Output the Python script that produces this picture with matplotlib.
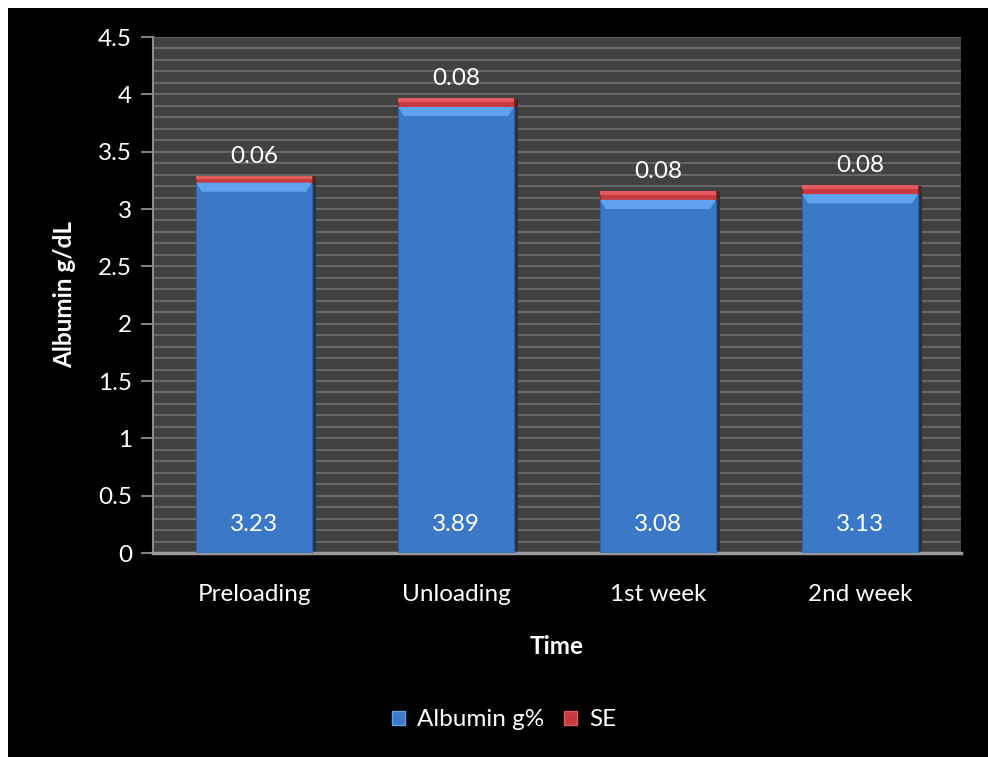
import numpy as np
import matplotlib.pyplot as plt
from matplotlib.patches import Rectangle, Polygon

# data
times = ['Preloading', 'Unloading', '1st week', '2nd week']
albumin = [3.23, 3.89, 3.08, 3.13]
se = [0.06, 0.08, 0.08, 0.08]

plt.rcParams['font.family'] = ['Lato', 'DejaVu Sans']
fs = 17.5

fig = plt.figure(figsize=(9.88, 7.57), dpi=100, facecolor='white')
# black chart area, white strip on top/left
fig.patches.append(Rectangle((8/988, 0), 1, 1 - 8/757, transform=fig.transFigure,
                             facecolor='black', edgecolor='none', zorder=-10))

ax = fig.add_axes([153/988, 1 - 553/757, 808/988, 516/757])
ax.set_facecolor('#414141')

x = np.arange(len(times))
w = 0.575
blue = '#3b78c8'
red = '#c93a3e'

# soft shadow behind bars
ax.bar(x + 0.015, np.array(albumin) + np.array(se), w + 0.01, bottom=-0.01,
       color='#303030', zorder=2)
ax.bar(x, albumin, w, color=blue, edgecolor='#2f62a6', lw=0.8, zorder=3)
ax.bar(x, se, w, bottom=albumin, color=red, edgecolor='#8e2226', lw=0.8, zorder=3)

# bevel highlight on top of bars
for xi, a, s in zip(x, albumin, se):
    l, r = xi - w/2, xi + w/2
    ax.add_patch(Polygon([(l, a), (r, a), (r - 0.03, a - 0.08), (l + 0.03, a - 0.08)],
                         closed=True, facecolor='#5fa2ee', edgecolor='none', zorder=4))
    ax.add_patch(Polygon([(l, a + s), (r, a + s), (r, a + s*0.55), (l, a + s*0.55)],
                         closed=True, facecolor='#e35a5e', edgecolor='none', zorder=4))
    ax.text(xi, a + s + 0.17, f'{s:.2f}', ha='center', va='center',
            color='white', fontsize=fs, zorder=5)
    ax.text(xi, 0.25, f'{a:.2f}', ha='center', va='center',
            color='white', fontsize=fs, zorder=5)

ax.set_xlim(-0.5, len(times) - 0.5)
ax.set_ylim(0, 4.5)
ax.set_yticks(np.arange(0, 4.51, 0.5))
ax.set_yticklabels(['0', '0.5', '1', '1.5', '2', '2.5', '3', '3.5', '4', '4.5'])
ax.set_yticks(np.arange(0, 4.51, 0.1), minor=True)
ax.grid(True, which='both', axis='y', color='#6c6c6c', lw=1.3, zorder=1)
ax.set_axisbelow(True)
ax.set_xticks(x)
ax.set_xticklabels(times)

ax.tick_params(axis='y', which='major', colors='#808080', labelcolor='white',
               labelsize=fs, length=9, width=1.5, pad=6)
ax.tick_params(axis='y', which='minor', length=0)
ax.tick_params(axis='x', length=0, labelcolor='white', labelsize=fs, pad=22)

for sp in ['top', 'right']:
    ax.spines[sp].set_visible(False)
ax.spines['left'].set_color('#8a8a8a')
ax.spines['left'].set_linewidth(1.5)
ax.spines['bottom'].set_color('#9a9a9a')
ax.spines['bottom'].set_linewidth(2.5)

ax.set_ylabel('Albumin g/dL', color='white', fontsize=fs, fontweight='bold', labelpad=16)
ax.set_xlabel('Time', color='white', fontsize=fs, fontweight='bold', labelpad=22)

h1 = Rectangle((0, 0), 1, 1, facecolor=blue, edgecolor='#5fa2ee')
h2 = Rectangle((0, 0), 1, 1, facecolor=red, edgecolor='#e35a5e')
fig.legend([h1, h2], ['Albumin g%', 'SE'], loc='center', bbox_to_anchor=(504/988, 1 - 720/757),
           ncol=2, frameon=False, fontsize=fs, labelcolor='white',
           handlelength=0.55, handleheight=0.55, handletextpad=0.5, columnspacing=0.8)

fig.savefig('out.png', dpi=100, facecolor=fig.get_facecolor())
